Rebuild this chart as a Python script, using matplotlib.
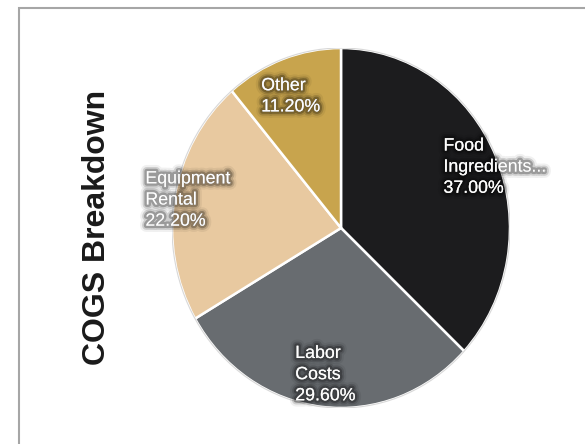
import numpy as np
import matplotlib
matplotlib.use('Agg')
import matplotlib.pyplot as plt
import matplotlib.patheffects as pe
from matplotlib.patches import Rectangle

# COGS breakdown data (percent)
labels = ['Food\nIngredients...', 'Labor\nCosts', 'Equipment\nRental', 'Other']
values = [37.0, 29.6, 22.2, 11.2]
colors = ['#1c1c1e', '#686c70', '#e8c9a0', '#c8a44d']
title = 'COGS Breakdown'

# label placement: radius (fraction of pie radius) and angle nudge (deg)
label_r = [0.97, 0.82, 0.92, 0.79]
label_nudge = [-3.0, 0.0, 0.0, 2.0]

plt.rcParams['font.family'] = ['Liberation Sans', 'DejaVu Sans']

fig = plt.figure(figsize=(5.85, 4.44), dpi=100)

# card border (runs off right and bottom edge)
fig.patches.append(Rectangle((19 / 585, -0.1), 1.2, 1 - 8 / 444 + 0.1,
                             transform=fig.transFigure, fill=False,
                             edgecolor='#a6a6a6', linewidth=1.5, zorder=0))

ax = fig.add_axes([172 / 585, 36 / 444, 338 / 585, 360 / 444])
wedges, _ = ax.pie(values, colors=colors, startangle=90, counterclock=False,
                   wedgeprops=dict(edgecolor='white', linewidth=1.8))
ax.set_aspect('auto')
ax.set_xlim(-1.0, 1.0)
ax.set_ylim(-1.0, 1.0)

# faint outline around the pie
circ = plt.Circle((0, 0), 1.0, fill=False, edgecolor='#d8d8d8', linewidth=0.8)
ax.add_patch(circ)

shadow = [pe.Stroke(linewidth=9, foreground=(0, 0, 0, 0.06)),
          pe.Stroke(linewidth=6, foreground=(0, 0, 0, 0.14)),
          pe.Stroke(linewidth=3.5, foreground=(0, 0, 0, 0.25)),
          pe.Normal()]

total = sum(values)
start = 90.0
for lab, v, r, nd in zip(labels, values, label_r, label_nudge):
    span = 360.0 * v / total
    mid = np.deg2rad(start - span / 2 + nd)
    start -= span
    ax.text(r * np.cos(mid), r * np.sin(mid), lab + '\n%.2f%%' % v,
            ha='center', va='center', multialignment='left',
            color='white', fontsize=12.8, linespacing=1.32,
            path_effects=shadow, clip_on=False)

fig.text(97 / 585, 0.488, title, rotation=90, ha='center', va='center',
         fontsize=23, fontweight='bold', color='#1a1a1a')

fig.savefig('out.png', dpi=100)
